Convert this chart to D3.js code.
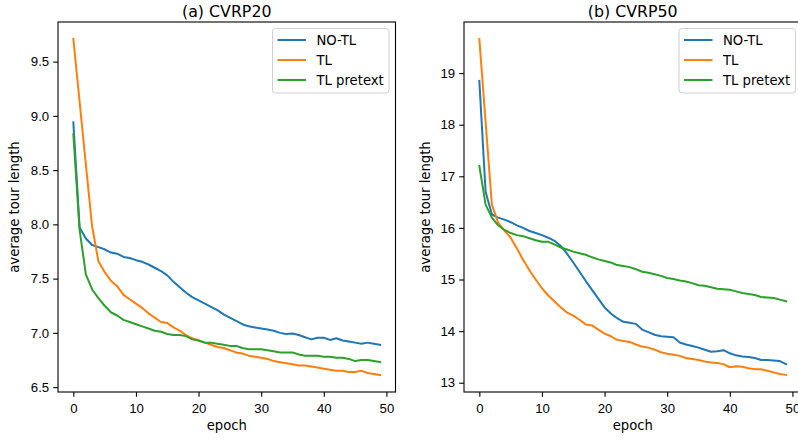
<!DOCTYPE html>
<html>
<head>
<meta charset="utf-8">
<script src="https://cdn.jsdelivr.net/npm/d3@7"></script>
<style>
  body { margin: 0; background: #fff; }
  svg { display: block; font-family: "DejaVu Sans", sans-serif; }
  .tick text { font-size: 13.2px; fill: #000; }
</style>
</head>
<body>
<div id="chart"></div>
<script>
// epochs 0..49
const epochs = d3.range(0, 50);
const seriesNames = ['NO-TL', 'TL', 'TL pretext'];
const colors = ['#1f77b4', '#ff7f0e', '#2ca02c'];

// (a) CVRP20
const cvrp20NoTL = [8.94, 7.97, 7.87, 7.81, 7.79, 7.77, 7.74, 7.73, 7.70, 7.69,
    7.67, 7.655, 7.63, 7.60, 7.57, 7.53, 7.47, 7.42, 7.37, 7.33,
    7.30, 7.27, 7.24, 7.21, 7.17, 7.14, 7.11, 7.08, 7.06, 7.05,
    7.04, 7.03, 7.02, 7.00, 6.99, 6.995, 6.98, 6.96, 6.94, 6.955,
    6.955, 6.935, 6.95, 6.93, 6.92, 6.91, 6.90, 6.91, 6.90, 6.89];
const cvrp20TL = [9.71, 9.13, 8.55, 7.98, 7.66, 7.56, 7.48, 7.43, 7.35, 7.31,
    7.27, 7.23, 7.18, 7.14, 7.10, 7.09, 7.05, 7.02, 6.98, 6.95,
    6.93, 6.91, 6.89, 6.87, 6.86, 6.84, 6.82, 6.81, 6.79, 6.78,
    6.77, 6.76, 6.74, 6.73, 6.72, 6.71, 6.70, 6.70, 6.69, 6.68,
    6.67, 6.66, 6.65, 6.65, 6.64, 6.64, 6.65, 6.63, 6.62, 6.61];
const cvrp20Pretext = [8.83, 7.95, 7.54, 7.40, 7.32, 7.25, 7.19, 7.16, 7.12, 7.10,
    7.08, 7.06, 7.04, 7.02, 7.01, 6.99, 6.98, 6.98, 6.97, 6.94,
    6.93, 6.91, 6.91, 6.90, 6.89, 6.88, 6.88, 6.86, 6.85, 6.85,
    6.85, 6.84, 6.83, 6.82, 6.82, 6.82, 6.80, 6.79, 6.79, 6.79,
    6.78, 6.78, 6.77, 6.77, 6.76, 6.74, 6.75, 6.75, 6.74, 6.73];

// (b) CVRP50
const cvrp50NoTL = [18.85, 16.7, 16.26, 16.2, 16.16, 16.11, 16.05, 16.0, 15.94, 15.9,
    15.86, 15.81, 15.75, 15.65, 15.5, 15.33, 15.15, 14.97, 14.8, 14.63,
    14.46, 14.34, 14.25, 14.18, 14.16, 14.14, 14.03, 13.98, 13.93, 13.9,
    13.89, 13.88, 13.78, 13.74, 13.71, 13.68, 13.64, 13.6, 13.61, 13.63,
    13.57, 13.53, 13.51, 13.5, 13.48, 13.44, 13.44, 13.43, 13.42, 13.36];
const cvrp50TL = [19.66, 18.05, 16.45, 16.1, 15.95, 15.81, 15.6, 15.38, 15.18, 15.0,
    14.83, 14.69, 14.58, 14.46, 14.36, 14.3, 14.22, 14.13, 14.11, 14.03,
    13.95, 13.9, 13.83, 13.81, 13.79, 13.74, 13.7, 13.68, 13.64, 13.59,
    13.56, 13.54, 13.52, 13.48, 13.46, 13.44, 13.41, 13.39, 13.38, 13.36,
    13.3, 13.32, 13.31, 13.28, 13.26, 13.26, 13.23, 13.2, 13.17, 13.15];
const cvrp50Pretext = [17.2, 16.45, 16.2, 16.05, 15.96, 15.9, 15.86, 15.84, 15.8, 15.76,
    15.73, 15.73, 15.68, 15.62, 15.58, 15.54, 15.51, 15.48, 15.43, 15.39,
    15.36, 15.33, 15.28, 15.26, 15.24, 15.2, 15.15, 15.13, 15.1, 15.07,
    15.03, 15.01, 14.98, 14.96, 14.93, 14.89, 14.88, 14.85, 14.82, 14.81,
    14.8, 14.77, 14.74, 14.72, 14.7, 14.66, 14.65, 14.64, 14.61, 14.58];

const xTicks = [0, 10, 20, 30, 40, 50];
const yTicks20 = [6.5, 7.0, 7.5, 8.0, 8.5, 9.0, 9.5];
const yTicks50 = [13, 14, 15, 16, 17, 18, 19];

const width = 798, height = 440;
const svg = d3.select('#chart').append('svg')
    .attr('width', width)
    .attr('height', height);

function drawPanel(opts) {
    const { left, right, top, bottom, yDomain, yTicks, yFormat, title, series } = opts;

    const x = d3.scaleLinear().domain([-2.45, 51.45]).range([left, right]);
    const y = d3.scaleLinear().domain(yDomain).range([bottom, top]);

    const g = svg.append('g');

    // lines
    const line = d3.line()
        .x((d, i) => x(epochs[i]))
        .y(d => y(d));

    series.forEach((s, i) => {
        g.append('path')
            .datum(s)
            .attr('d', line)
            .style('fill', 'none')
            .style('stroke', colors[i])
            .style('stroke-width', 2)
            .style('stroke-linejoin', 'round')
            .style('stroke-linecap', 'square');
    });

    // axes
    const xAxis = d3.axisBottom(x).tickValues(xTicks).tickSize(4.8).tickPadding(4).tickFormat(d3.format('d'));
    const yAxis = d3.axisLeft(y).tickValues(yTicks).tickSize(4.8).tickPadding(4).tickFormat(yFormat);

    g.append('g')
        .attr('transform', `translate(0,${bottom})`)
        .call(xAxis)
        .call(a => a.select('.domain').remove())
        .call(a => a.selectAll('line').style('stroke', '#000').style('stroke-width', 1.1))
        .call(a => a.selectAll('text').attr('dy', '0.95em'));

    g.append('g')
        .attr('transform', `translate(${left},0)`)
        .call(yAxis)
        .call(a => a.select('.domain').remove())
        .call(a => a.selectAll('line').style('stroke', '#000').style('stroke-width', 1.1));

    // frame
    g.append('rect')
        .attr('x', left)
        .attr('y', top)
        .attr('width', right - left)
        .attr('height', bottom - top)
        .style('fill', 'none')
        .style('stroke', '#000')
        .style('stroke-width', 1.1);

    // labels
    g.append('text')
        .attr('x', (left + right) / 2)
        .attr('y', 17)
        .attr('text-anchor', 'middle')
        .style('font-size', '15.8px')
        .text(title);

    g.append('text')
        .attr('x', (left + right) / 2)
        .attr('y', 430)
        .attr('text-anchor', 'middle')
        .style('font-size', '13.2px')
        .text('epoch');

    g.append('text')
        .attr('transform', `translate(${opts.ylabelX},${(top + bottom) / 2}) rotate(-90)`)
        .attr('text-anchor', 'middle')
        .style('font-size', '13.2px')
        .text('average tour length');

    // legend
    const lg = g.append('g').attr('transform', `translate(${opts.legendX},28.5)`);
    lg.append('rect')
        .attr('width', 116.5)
        .attr('height', 64.5)
        .attr('rx', 3)
        .style('fill', '#fff')
        .style('fill-opacity', 0.8)
        .style('stroke', '#d0d0d0')
        .style('stroke-width', 1);

    seriesNames.forEach((name, i) => {
        const ly = 11.5 + i * 20;
        lg.append('line')
            .attr('x1', 5).attr('x2', 33.5)
            .attr('y1', ly).attr('y2', ly)
            .style('stroke', colors[i])
            .style('stroke-width', 2);
        lg.append('text')
            .attr('x', 44)
            .attr('y', ly + 4.7)
            .style('font-size', '13.2px')
            .text(name);
    });
}

drawPanel({
    left: 58, right: 395.5, top: 22, bottom: 392,
    yDomain: [6.455, 9.865],
    yTicks: yTicks20,
    yFormat: d3.format('.1f'),
    title: '(a) CVRP20',
    series: [cvrp20NoTL, cvrp20TL, cvrp20Pretext],
    ylabelX: 18.5,
    legendX: 272.5
});

drawPanel({
    left: 464, right: 801.5, top: 22, bottom: 392,
    yDomain: [12.82, 19.99],
    yTicks: yTicks50,
    yFormat: d3.format('d'),
    title: '(b) CVRP50',
    series: [cvrp50NoTL, cvrp50TL, cvrp50Pretext],
    ylabelX: 430,
    legendX: 679
});
</script>
</body>
</html>
